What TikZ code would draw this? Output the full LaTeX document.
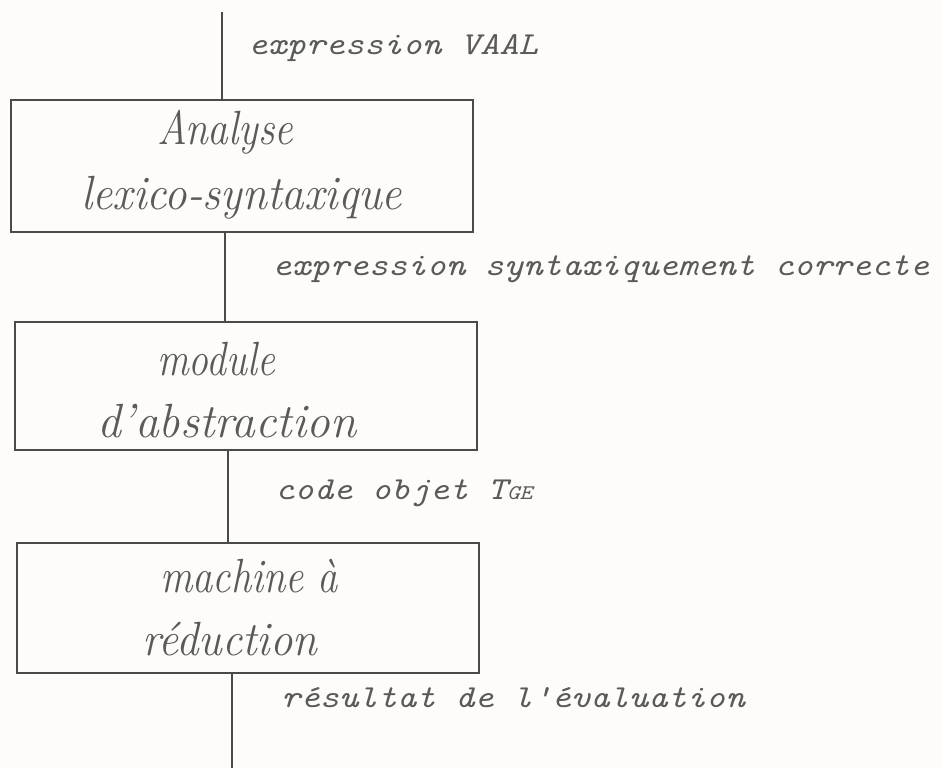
\documentclass[tikz,border=0pt]{standalone}
\usepackage{fontspec}
\usepackage{graphicx}
\definecolor{ink}{HTML}{4A4A4A}
\definecolor{inktext}{HTML}{5A5A5A}
\definecolor{paper}{HTML}{FDFCF8}
\newcommand\fitw[2]{\resizebox{#1}{\height}{#2}}
\newcommand\lblsquash[1]{\scalebox{1}[0.87]{#1}}
\newcommand\bxfont{\fontsize{48}{52}\selectfont\itshape}
\newcommand\lbfont{\fontsize{36.8}{40}\selectfont\ttfamily\itshape}
\begin{document}
\begin{tikzpicture}[x=1pt,y=-1pt,
  stagebox/.style={draw=ink, line width=2pt, inner sep=0pt, outer sep=0pt, minimum width=462pt},
  conn/.style={draw=ink, line width=1.3pt},
  lbl/.style={anchor=base west, inner sep=0pt, text=inktext, font=\lbfont},
  btxt/.style={anchor=base west, inner sep=0pt, text=inktext}]
\fill[paper] (0,0) rectangle (943,768);
\useasboundingbox (0,0) rectangle (943,768);

% boxes
\node[stagebox, minimum height=131pt] (b1) at (242,166) {};
\node[stagebox, minimum height=128pt] (b2) at (246,386) {};
\node[stagebox, minimum height=130pt] (b3) at (248,608) {};

% box texts
\node[btxt] (t1a) at (157,145) {\fitw{136pt}{\bxfont Analyse}};
\node[btxt] (t1b) at (81,209) {\fitw{321pt}{\bxfont lexico-syntaxique}};
\node[btxt] (t2a) at (157,375) {\fitw{118pt}{\bxfont module}};
\node[btxt] (t2b) at (97,437) {\fitw{259pt}{\bxfont d'abstraction}};
\node[btxt] (t3a) at (160,592) {\fitw{178pt}{\bxfont machine à}};
\node[btxt] (t3b) at (142,655) {\fitw{175pt}{\bxfont réduction}};

% connectors
\coordinate (top) at (222,12);
\coordinate (bot) at (232,768);
\coordinate (s1) at ([xshift=-17pt]b1.south);
\coordinate (s2) at ([xshift=-18pt]b2.south);
\coordinate (s3) at ([xshift=-16pt]b3.south);
\draw[conn] (top) -- (top |- b1.north);
\draw[conn] (s1) -- (s1 |- b2.north);
\draw[conn] (s2) -- (s2 |- b3.north);
\draw[conn] (s3) -- (bot);

% flow labels
\node[lbl] (l1) at (248,55) {\lblsquash{expression VAAL}};
\node[lbl] (l2) at (272,275) {\lblsquash{expression syntaxiquement correcte}};
\node[lbl] (l3) at (275,499) {\lblsquash{code objet T\scalebox{0.65}{GE}}};
\node[lbl] (l4) at (281,707) {\lblsquash{résultat de l'évaluation}};
\end{tikzpicture}
\end{document}
